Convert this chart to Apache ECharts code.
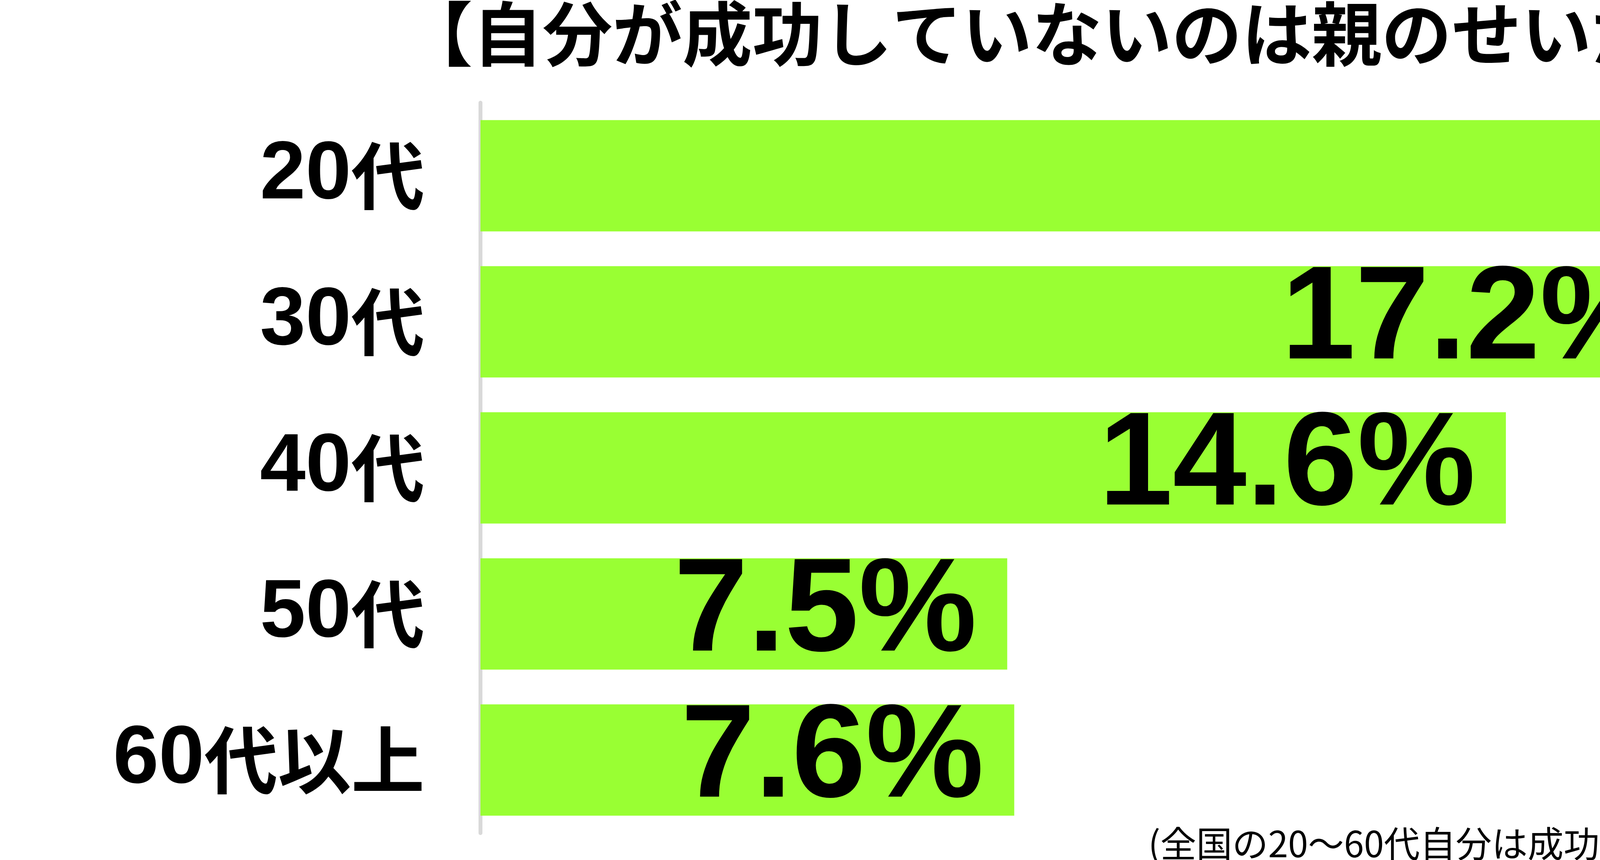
<!DOCTYPE html>
<html>
<head>
<meta charset="utf-8">
<script src="https://cdn.jsdelivr.net/npm/echarts@6/dist/echarts.min.js"></script>
<style>
html,body{margin:0;padding:0;background:#fff;}
#chart{width:6000px;height:2202px;}
</style>
</head>
<body>
<div id="chart"></div>
<script>
const titleText = '【自分が成功していないのは親のせいだと思う】';
const categories = ['20代', '30代', '40代', '50代', '60代以上'];
const values = [23.7, 17.2, 14.6, 7.5, 7.6];
const footnote = '(全国の20〜60代自分は成功者ではないと思っている男女950名に調査)';
const logoTagline = '気になるアレを大調査ニュース!';
const logoName = 'しらべ';
const logoTail = 'ぇ';

const chart = echarts.init(document.getElementById('chart'), null, {renderer: 'canvas'});
const pink = '#ff50be';

chart.setOption({
  backgroundColor: '#ffffff',
  animation: false,
  title: {
    text: titleText,
    left: 'center',
    top: -8,
    textStyle: {
      fontFamily: '"Noto Sans CJK JP"',
      fontWeight: 'bold',
      fontSize: 179,
      color: '#000'
    }
  },
  grid: {
    left: 1230,
    right: 275,
    top: 263,
    bottom: 69,
    containLabel: false
  },
  xAxis: {
    type: 'value',
    min: 0,
    max: 25,
    show: false,
    splitLine: {show: false}
  },
  yAxis: {
    type: 'category',
    data: categories,
    inverse: true,
    offset: 5,
    axisTick: {show: false},
    axisLine: {show: true, lineStyle: {color: '#d9d9d9', width: 10}},
    axisLabel: {
      margin: 138,
      color: '#000',
      formatter: v => v.replace(/^(\d+)(.*)$/, '{d|$1}{k|$2}'),
      rich: {
        d: {
          fontSize: 210,
          fontWeight: 'bold',
          fontFamily: '"Liberation Sans", Arial, sans-serif',
          color: '#000',
          verticalAlign: 'middle'
        },
        k: {
          fontSize: 188,
          fontWeight: 'bold',
          fontFamily: '"Noto Sans CJK JP"',
          color: '#000',
          verticalAlign: 'middle'
        }
      }
    }
  },
  series: [{
    type: 'bar',
    data: values,
    barWidth: 285,
    itemStyle: {color: '#99ff33'},
    label: {
      show: true,
      position: 'insideRight',
      distance: 78,
      fontSize: 340,
      fontWeight: 'bold',
      fontFamily: '"Liberation Sans", Arial, sans-serif',
      color: '#000',
      formatter: p => p.value.toFixed(1) + '%'
    }
  }],
  graphic: [
    {
      type: 'text',
      x: 5843, y: 2160,
      style: {
        text: footnote,
        align: 'right', textAlign: 'right',
        verticalAlign: 'middle', textVerticalAlign: 'middle',
        font: '92px "Noto Sans CJK JP"',
        fill: '#000'
      }
    },
    {
      type: 'rect',
      shape: {x: 5029, y: 1822, width: 772, height: 269},
      style: {fill: pink}
    },
    {
      type: 'text',
      x: 5490, y: 1884,
      style: {
        text: logoTagline,
        align: 'center', textAlign: 'center',
        verticalAlign: 'middle', textVerticalAlign: 'middle',
        font: 'bold 30px "Noto Sans CJK JP"',
        fill: '#000'
      }
    },
    {
      type: 'text',
      x: 5240, y: 1990,
      style: {
        text: logoName,
        align: 'left', textAlign: 'left',
        verticalAlign: 'middle', textVerticalAlign: 'middle',
        font: 'bold 150px "Noto Sans CJK JP"',
        fill: '#000'
      }
    },
    {
      type: 'text',
      x: 5692, y: 2012,
      style: {
        text: logoTail,
        align: 'left', textAlign: 'left',
        verticalAlign: 'middle', textVerticalAlign: 'middle',
        font: 'bold 95px "Noto Sans CJK JP"',
        fill: '#000'
      }
    },
    {
      type: 'circle',
      shape: {cx: 5115, cy: 1872, r: 15},
      style: {fill: '#000'}
    },
    {
      type: 'polygon',
      shape: {points: [[5104, 1895], [5124, 1895], [5130, 1990], [5098, 1990]]},
      style: {fill: '#000'}
    },
    {
      type: 'circle',
      shape: {cx: 0, cy: 0, r: 60},
      x: 5117, y: 2012,
      scaleY: 0.78,
      style: {fill: '#000'}
    },
    {
      type: 'circle',
      shape: {cx: 0, cy: 0, r: 11},
      x: 5098, y: 2012,
      scaleY: 0.6,
      style: {fill: pink}
    },
    {
      type: 'circle',
      shape: {cx: 0, cy: 0, r: 11},
      x: 5134, y: 2012,
      scaleY: 0.6,
      style: {fill: pink}
    }
  ]
});
</script>
</body>
</html>
